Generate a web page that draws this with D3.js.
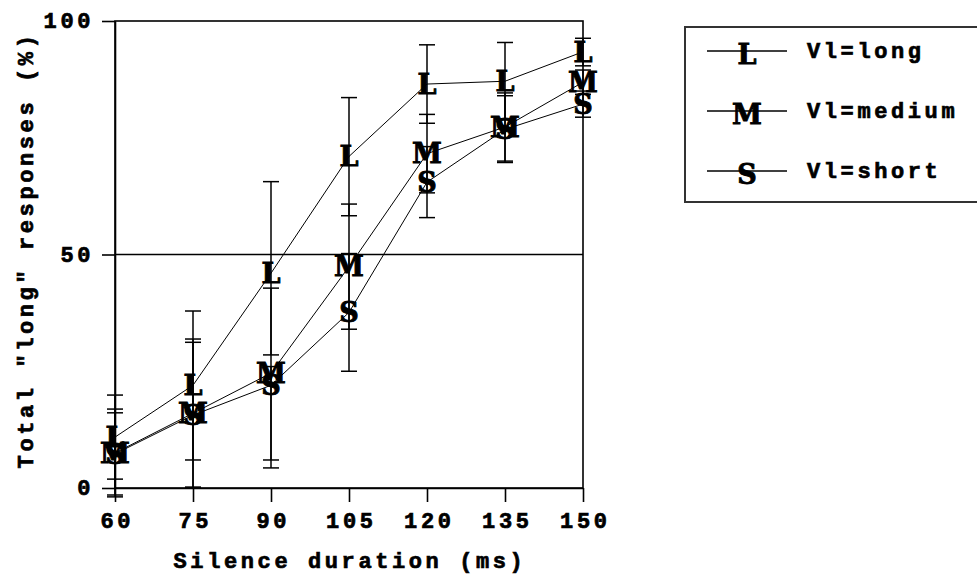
<!DOCTYPE html>
<html>
<head>
<meta charset="utf-8">
<script src="https://cdnjs.cloudflare.com/ajax/libs/d3/7.8.5/d3.min.js"></script>
<style>
  body { margin: 0; background: #fff; }
  svg { display: block; }
  .lbl { font-family: "Liberation Mono", monospace; font-weight: bold; font-size: 22px; letter-spacing: 3.6px; fill: #000; stroke: #000; stroke-width: 0.7px; }
  .sym { font-family: "DejaVu Serif", serif; font-weight: bold; font-size: 27px; fill: #000; stroke: #000; stroke-width: 0.9px; }
</style>
</head>
<body>
<div id="chart"></div>
<script>
// silence duration (ms)
const durations = [60, 75, 90, 105, 120, 135, 150];
const yTicks = [0, 50, 100];

const seriesNames = ["Vl=long", "Vl=medium", "Vl=short"];
const seriesSymbols = ["L", "M", "S"];

// mean % "long" responses, with error bar ends
const longMean = [10.9, 22, 46, 71, 86.5, 87.1, 93.4];
const longHi   = [19.9, 37.9, 65.6, 83.6, 94.9, 95.4, 96.3];
const longLo   = [1.9, 6.0, 28.5, 58.3, 78.1, 78.8, 90.4];

const mediumMean = [7.5, 16, 24.6, 47.4, 71.6, 77.3, 86.9];
const mediumHi   = [16.9, 31.9, 42.8, 60.8, 80.0, 84.6, 89.5];
const mediumLo   = [-1.9, 0.2, 6.0, 34.0, 63.2, 70.0, 84.3];

const shortMean = [7.3, 15.6, 22, 37.6, 65.5, 76.8, 82.2];
const shortHi   = [16.1, 31.2, 26, 50.2, 73.1, 84.0, 85.0];
const shortLo   = [-1.5, 0, 4.3, 25.0, 57.9, 69.7, 79.4];

const series = [
  { name: seriesNames[0], sym: seriesSymbols[0], mean: longMean, hi: longHi, lo: longLo },
  { name: seriesNames[1], sym: seriesSymbols[1], mean: mediumMean, hi: mediumHi, lo: mediumLo },
  { name: seriesNames[2], sym: seriesSymbols[2], mean: shortMean, hi: shortHi, lo: shortLo }
];

const W = 977, H = 580;
const svg = d3.select("#chart").append("svg").attr("width", W).attr("height", H);

const x = d3.scaleLinear().domain([60, 150]).range([115, 583]);
const y = d3.scaleLinear().domain([0, 100]).range([488, 21]);

// frame + 50% line
svg.append("rect")
  .attr("x", x(60)).attr("y", y(100))
  .attr("width", x(150) - x(60)).attr("height", y(0) - y(100))
  .attr("fill", "none").attr("stroke", "#000").attr("stroke-width", 1.6);
svg.append("line")
  .attr("x1", x(60)).attr("x2", x(150)).attr("y1", y(50)).attr("y2", y(50))
  .attr("stroke", "#000").attr("stroke-width", 1.4);

// axes
const xAxis = svg.append("g")
  .attr("transform", "translate(0," + y(0) + ")")
  .call(d3.axisBottom(x).tickValues(durations).tickSize(14).tickSizeOuter(0).tickPadding(10));
const yAxis = svg.append("g")
  .attr("transform", "translate(" + x(60) + ",0)")
  .call(d3.axisLeft(y).tickValues(yTicks).tickSize(13).tickSizeOuter(0).tickPadding(6));

[xAxis, yAxis].forEach(function(g) {
  g.select(".domain").attr("stroke", "#000").attr("stroke-width", 1.6);
  g.selectAll(".tick line").attr("stroke", "#000").attr("stroke-width", 1.6);
  g.selectAll(".tick text").attr("class", "lbl").attr("font-size", null).attr("font-family", null);
});
xAxis.selectAll(".tick text").attr("dx", "1.8px");
yAxis.selectAll(".tick text").attr("dx", "-2px").attr("dy", "0.3em");

// axis titles
svg.append("text").attr("class", "lbl")
  .attr("x", 350).attr("y", 568).attr("text-anchor", "middle")
  .text("Silence duration (ms)");
svg.append("text").attr("class", "lbl")
  .attr("transform", "translate(33,250) rotate(-90)")
  .attr("text-anchor", "middle")
  .text('Total "long" responses (%)');

// error bars
const capW = 8;
const bars = svg.append("g").attr("stroke", "#000").attr("stroke-width", 1.5);
series.forEach(function(s) {
  durations.forEach(function(d, i) {
    const g = bars.append("g");
    g.append("line").attr("x1", x(d)).attr("x2", x(d)).attr("y1", y(s.hi[i])).attr("y2", y(s.lo[i]));
    g.append("line").attr("x1", x(d) - capW).attr("x2", x(d) + capW).attr("y1", y(s.hi[i])).attr("y2", y(s.hi[i]));
    g.append("line").attr("x1", x(d) - capW).attr("x2", x(d) + capW).attr("y1", y(s.lo[i])).attr("y2", y(s.lo[i]));
  });
});

// lines
const line = d3.line().x(function(d) { return x(d[0]); }).y(function(d) { return y(d[1]); });
series.forEach(function(s) {
  svg.append("path")
    .attr("d", line(durations.map(function(d, i) { return [d, s.mean[i]]; })))
    .attr("fill", "none").attr("stroke", "#000").attr("stroke-width", 1);
});

// letter markers
series.forEach(function(s) {
  svg.append("g").selectAll("text")
    .data(durations)
    .join("text")
    .attr("class", "sym")
    .attr("text-anchor", "middle")
    .attr("x", function(d) { return x(d); })
    .attr("y", function(d, i) { return y(s.mean[i]); })
    .attr("dy", "0.36em")
    .text(s.sym);
});

// legend
const lg = svg.append("g");
lg.append("rect")
  .attr("x", 685).attr("y", 27).attr("width", 320).attr("height", 175)
  .attr("fill", "none").attr("stroke", "#333").attr("stroke-width", 2);
const rows = lg.selectAll(".row").data(series).join("g")
  .attr("class", "row")
  .attr("transform", function(d, i) { return "translate(0," + (51 + i * 60) + ")"; });
rows.append("line").attr("x1", 707).attr("x2", 787).attr("y1", 0).attr("y2", 0)
  .attr("stroke", "#000").attr("stroke-width", 1.5);
rows.append("text").attr("class", "sym").attr("text-anchor", "middle")
  .attr("x", 747).attr("y", 3).attr("dy", "0.36em")
  .text(function(d) { return d.sym; });
rows.append("text").attr("class", "lbl")
  .attr("x", 807).attr("y", 7)
  .text(function(d) { return d.name; });
</script>
</body>
</html>
